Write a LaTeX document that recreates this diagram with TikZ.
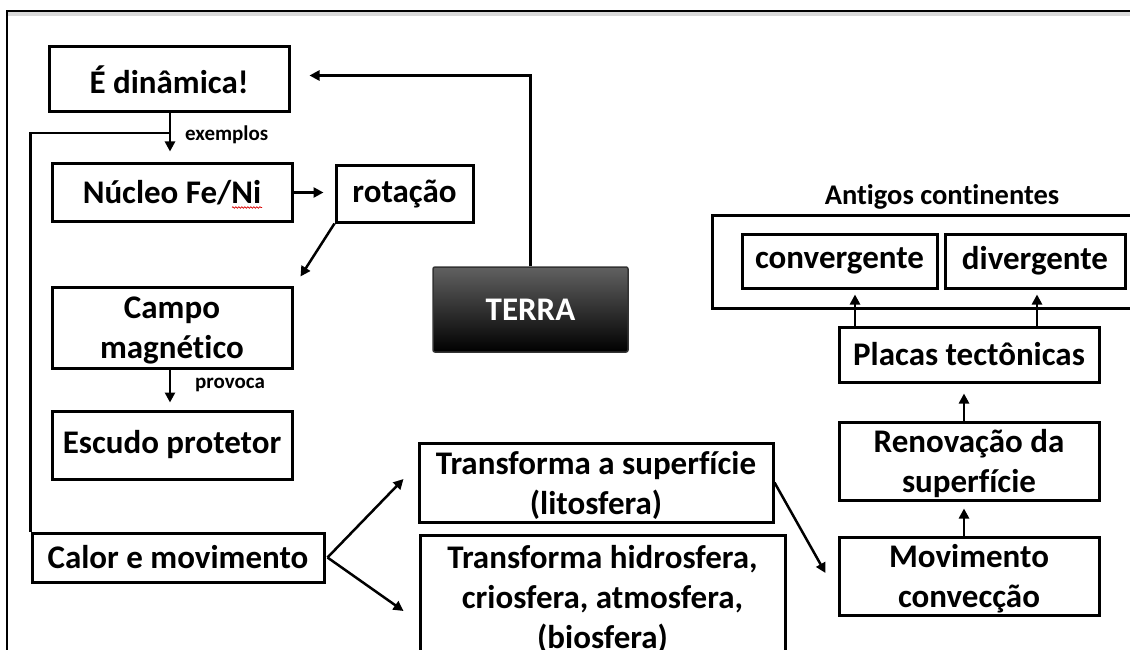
\documentclass[tikz,border=0pt]{standalone}
\usepackage{fontspec}
\setmainfont{Carlito}[Ligatures=NoCommon]
\usetikzlibrary{arrows.meta,calc,decorations.pathmorphing}
\newcommand\boxfont{\fontsize{33}{40}\selectfont\bfseries}
\newcommand\capfont{\fontsize{28.5}{34}\selectfont\bfseries}
\newcommand\tagfont{\fontsize{21}{25}\selectfont\bfseries}
\begin{document}
\begin{tikzpicture}[x=1pt,y=-1pt,
  box/.style={draw, line width=3pt, inner sep=0pt, font=\boxfont, align=center},
  multi/.style={text depth=0pt},
  link/.style={line width=2.5pt},
  arr/.style={link, -{Triangle[length=10pt,width=10pt]}},
  tag/.style={font=\tagfont, anchor=west, inner sep=0pt}]
\clip (0,0) rectangle (1130,650);
\fill[white] (0,0) rectangle (1130,650);
% page frame
\fill[gray!30] (8,12.5) rectangle (1135,16.5);
\draw[line width=2.5pt] (7,655) -- (7,11.2) -- (1135,11.2);

% left column
\node[box, minimum width=240pt, minimum height=65pt] (din) at (169,79.5) {É dinâmica!};
\node[box, minimum width=240pt, minimum height=57pt] (nuc) at (172,192.5) {Núcleo Fe/Ni};
\node[box, minimum width=137pt, minimum height=56pt] (rot) at (404.5,194) {rotação};
\node[box, multi, minimum width=240pt, minimum height=81pt] (campo) at (172,327.5) {Campo\\magnético};
\node[box, minimum width=240pt, minimum height=68pt] (esc) at (172,445) {Escudo protetor};
\node[box, minimum width=292pt, minimum height=49pt] (calor) at (178,557.5) {Calor e movimento};

% centre
\node[draw=black!80, line width=1.5pt, rounded corners=2pt, top color=black!62, middle color=black, bottom color=black,
      minimum width=195pt, minimum height=85pt, text=white, font=\boxfont] (terra) at (530.5,309.5) {TERRA};
\node[box, multi, minimum width=354pt, minimum height=79pt] (tsup) at (596,482.5) {Transforma a superfície\\(litosfera)};
\node[box, multi, minimum width=365pt, minimum height=124pt] (thid) at (602.5,597) {Transforma hidrosfera,\\criosfera, atmosfera,\\(biosfera)};

% right column
\node[box, minimum width=438pt, minimum height=93pt] (ant) at (931,261.5) {};
\node[font=\capfont, inner sep=0pt] (antlbl) at (942,197) {Antigos continentes};
\node[box, minimum width=195pt, minimum height=54pt] (conv) at (839.5,261) {convergente};
\node[box, minimum width=180pt, minimum height=54pt] (div) at (1035,261) {divergente};
\node[box, minimum width=260pt, minimum height=55pt] (pla) at (969,354.5) {Placas tectônicas};
\node[box, multi, minimum width=260pt, minimum height=78pt] (ren) at (969,461) {Renovação da\\superfície};
\node[box, multi, minimum width=260pt, minimum height=78pt] (mov) at (969,576) {Movimento\\convecção};

% spell-check squiggle under "Ni"
\draw[red!85!black, line width=0.7pt, decorate, decoration={snake, segment length=3pt, amplitude=0.8pt}]
  (232,207.5) -- (262,207.5);

% connectors
\coordinate (j) at (170,133);
\draw[arr] (terra.north) |- ($(din.east)+(19,-4)$);
\draw[arr] (din.south -| j) -- ++(0,38);
\node[tag] (ex) at (185,135) {exemplos};
\draw[link] (calor.north west) |- (j);
\draw[arr] (nuc.east) -- ($(nuc.east -| rot.west)+(-11,0)$);
\draw[arr] (rot.south west) -- ($(campo.north east)+(7,-9)$);
\draw[arr] (campo.south -| j) -- ++(0,33);
\node[tag] (pv) at (195,385) {provoca};
\draw[arr] ($(calor.east)+(2,0)$) -- ($(tsup.west)+(-14,-3.5)$);
\draw[arr] ($(calor.east)+(2,0)$) -- ($(thid.west)+(-15,14)$);
\draw[arr] (tsup.east) -- ($(mov.west)+(-12,-3)$);
\draw[arr] ($(mov.north)+(-5,0)$) -- ($(ren.south)+(-5,7)$);
\draw[arr] ($(ren.north)+(-5,0)$) -- ($(pla.south)+(-5,10)$);
\draw[arr] (pla.north -| 855,0) -- ($(conv.south -| 855,0)+(0,5)$);
\draw[arr] (pla.north -| 1037,0) -- ($(div.south -| 1037,0)+(0,5)$);
\end{tikzpicture}
\end{document}
